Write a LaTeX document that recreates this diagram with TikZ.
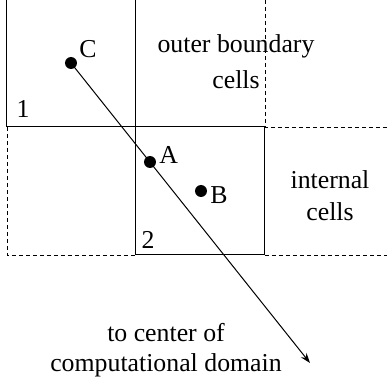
\documentclass[tikz,border=0pt]{standalone}
\usepackage{fontspec}
\setmainfont{Liberation Serif}
\usetikzlibrary{arrows.meta,positioning,calc}

\begin{document}
\begin{tikzpicture}[
  x=0.5pt,y=-0.5pt,
  font=\fontsize{12.9}{15}\selectfont,
  >=Stealth,
  cell/.style={line width=0.5pt},
  ghost/.style={line width=0.45pt,dash pattern=on 2pt off 1.5pt},
  pt/.style={circle,fill,inner sep=0pt,minimum size=6pt},
  ray/.style={line width=0.5pt,-{Stealth[length=5pt,width=3.5pt]}}
]
\useasboundingbox (0,0) rectangle (387,380);

% cell corners
\coordinate (tl) at (7,0);
\coordinate (tm) at (136,0);
\coordinate (tr) at (265,0);
\coordinate (ml) at (7,127);
\coordinate (mm) at (136,127);
\coordinate (mr) at (265,127);
\coordinate (me) at (387,127);
\coordinate (bl) at (7,255);
\coordinate (bm) at (136,255);
\coordinate (br) at (265,255);
\coordinate (be) at (387,255);

% solid cells
\draw[cell] (tl) -- (ml) -- (mr) -- (br) -- (bm) -- (tm);
% dashed neighbours
\draw[ghost] (tr) -- (mr) -- (me);
\draw[ghost] (ml) -- (bl) -- (bm);
\draw[ghost] (br) -- (be);

% points
\node[pt] (c) at (71,63) {};
\node[pt] (a) at (150,162) {};
\node[pt] (b) at (201,191) {};
\coordinate (tip) at (310,363);
\draw[ray] (c.center) -- (tip);

\node[anchor=south west,inner sep=1pt] (clab) at (77,60) {C};
\node[anchor=south west,inner sep=1pt] (alab) at (157,166) {A};
\node[anchor=west,inner sep=1pt] (blab) at (208,195) {B};
\node (one) at (23,109) {1};
\node (two) at (148,240) {2};

\node (outer) at (236,46) {outer boundary};
\node (cellsa) at (236,80) {cells};
\node (internal) at (330,180) {internal};
\node (cellsb) at (330,212) {cells};
\node[align=center] (dom) at (166,350) {to center of\\computational domain};
\end{tikzpicture}
\end{document}
